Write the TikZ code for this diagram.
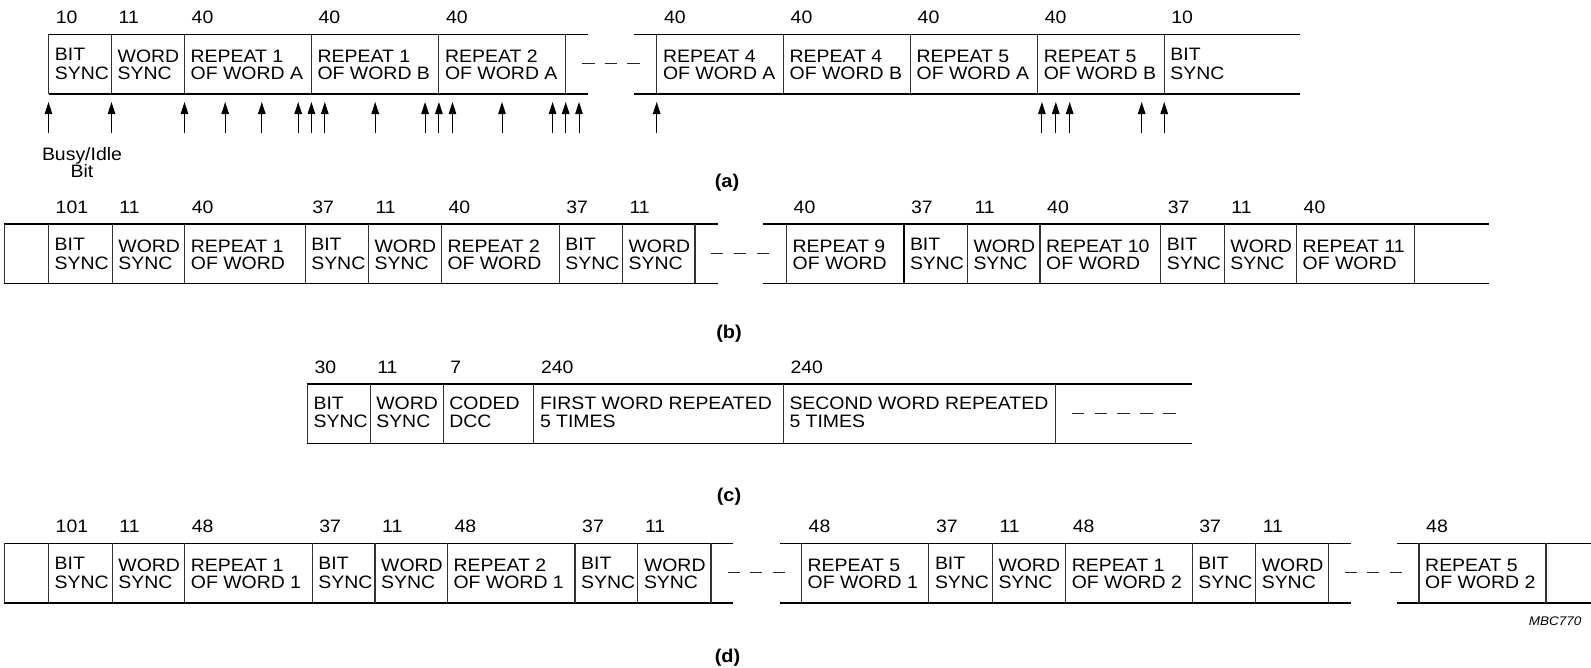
\documentclass[tikz,border=0pt]{standalone}
\usepackage{fontspec}
\setmainfont{Liberation Sans}[FakeStretch=1.08]
\usetikzlibrary{arrows.meta}
\begin{document}
\begin{tikzpicture}[x=1pt,y=-1pt,
  hline/.style={line width=1.1pt, black},
  vline/.style={line width=1.1pt, black!80},
  dashmark/.style={line width=1.1pt, black!85},
  txt/.style={anchor=base west, inner sep=0pt, font=\fontsize{18}{20}\selectfont},
  num/.style={txt},
  arr/.style={line width=1pt, black, -{Triangle[length=12pt,width=7.5pt]}},
  capt/.style={inner sep=0pt, font=\fontsize{18.5}{20}\selectfont\bfseries},
  note/.style={inner sep=0pt, font=\fontsize{12.5}{14}\selectfont\itshape},
  lbl/.style={anchor=base, inner sep=0pt, font=\fontsize{18}{20}\selectfont},
]
\useasboundingbox (0,0) rectangle (1591,667);

% ================= row (a) =================
\draw[hline] (48.7,34.3) -- (588.3,34.3) (48.7,94) -- (588.3,94);
\draw[hline] (634,34.3) -- (1300,34.3) (634,94) -- (1300,94);
\foreach \x in {48.7,111.5,184.5,311.4,438.9,565.7,656.9,783.5,910.5,1037.6,1164.2}
  \draw[vline] (\x,34.3) -- (\x,94);
\foreach \x/\n/\p/\q/\d/\e [count=\i] in {
  48.7/10/BIT/SYNC/26.5/45, 111.5/11/WORD/SYNC/28.5/45.5,
  184.5/40/REPEAT 1/OF WORD A/28.5/45.5, 311.4/40/REPEAT 1/OF WORD B/28.5/45.5,
  438.9/40/REPEAT 2/OF WORD A/28.5/45.5, 656.9/40/REPEAT 4/OF WORD A/28.5/45.5,
  783.5/40/REPEAT 4/OF WORD B/28.5/45.5, 910.5/40/REPEAT 5/OF WORD A/28.5/45.5,
  1037.6/40/REPEAT 5/OF WORD B/28.5/45.5, 1164.2/10/BIT/SYNC/26.5/45}{
  \node[num] (na\i) at (\x+7,34.3-11) {\n};
  \node[txt] (ca\i-1) at (\x+6,34.3+\d) {\p};
  \node[txt] (ca\i-2) at (\x+6,34.3+\e) {\q};
}
\foreach \a [count=\i] in {582,604.5,627}
  \draw[dashmark] (\a,63.7) -- ++(12.5,0);
\foreach \x [count=\i] in {48.5,111.5,184.5,225.2,261.8,298.2,311.4,324.8,375.2,425.1,438.9,452.5,502,552.6,565.7,579,656.7,1041.9,1055.8,1069.7,1141.7,1164.2}{
  \coordinate (as\i) at (\x,133);
  \coordinate (ae\i) at (\x,102);
  \draw[arr] (as\i) -- (ae\i);
}
\node[lbl] (busy) at (82,160) {Busy/Idle};
\node[lbl] (bit) at (82,177) {Bit};
\node[capt] (capa) at (727,183) {(a)};

% ================= row (b) =================
\draw[hline] (4.1,224) -- (717.7,224) (4.1,283.3) -- (717.7,283.3);
\draw[hline] (763.3,224) -- (1489,224) (763.3,283.3) -- (1489,283.3);
\foreach \x in {4.1,48.5,112.2,184.7,305.1,368.4,441.3,559.2,622.4,695,786.5,967.3,1040,1160.7,1224.2,1296.5,1414.7}
  \draw[vline] (\x,224) -- (\x,283.3);
\draw[vline, line width=1.7pt, black] (903.8,224) -- (903.8,283.3);
\foreach \x/\n/\p/\q/\d/\e [count=\i] in {
  48.5/101/BIT/SYNC/26.5/45, 112.2/11/WORD/SYNC/28.5/45.5,
  184.7/40/REPEAT 1/OF WORD/28.5/45.5, 305.1/37/BIT/SYNC/26.5/45,
  368.4/11/WORD/SYNC/28.5/45.5, 441.3/40/REPEAT 2/OF WORD/28.5/45.5,
  559.2/37/BIT/SYNC/26.5/45, 622.4/11/WORD/SYNC/28.5/45.5,
  786.5/40/REPEAT 9/OF WORD/28.5/45.5, 903.8/37/BIT/SYNC/26.5/45,
  967.3/11/WORD/SYNC/28.5/45.5, 1040/40/REPEAT 10/OF WORD/28.5/45.5,
  1160.7/37/BIT/SYNC/26.5/45, 1224.2/11/WORD/SYNC/28.5/45.5,
  1296.5/40/REPEAT 11/OF WORD/28.5/45.5}{
  \node[num] (nb\i) at (\x+7,224-11) {\n};
  \node[txt] (cb\i-1) at (\x+6,224+\d) {\p};
  \node[txt] (cb\i-2) at (\x+6,224+\e) {\q};
}
\foreach \a in {711,733.5,757}
  \draw[dashmark] (\a,253.3) -- ++(12,0);
\node[capt] (capb) at (729,334) {(b)};

% ================= row (c) =================
\draw[hline] (307.4,384) -- (1191.7,384) (307.4,443.3) -- (1191.7,443.3);
\foreach \x in {307.4,370.1,443.2,533.8,783.3,1055.7}
  \draw[vline] (\x,384) -- (\x,443.3);
\foreach \x/\n/\p/\q [count=\i] in {
  307.4/30/BIT/SYNC, 370.1/11/WORD/SYNC, 443.2/7/CODED/DCC,
  533.8/240/FIRST WORD REPEATED/5 TIMES, 783.3/240/SECOND WORD REPEATED/5 TIMES}{
  \node[num] (nc\i) at (\x+7,384-11) {\n};
  \node[txt] (cc\i-1) at (\x+6,384+25.5) {\p};
  \node[txt] (cc\i-2) at (\x+6,384+43) {\q};
}
\foreach \a in {1071.7,1094.5,1117,1140,1163.3}
  \draw[dashmark] (\a,413.3) -- ++(12.5,0);
\node[capt] (capc) at (729,497) {(c)};

% ================= row (d) =================
\draw[hline] (4.1,543.3) -- (733,543.3) (4.1,603) -- (733,603);
\draw[hline] (780,543.3) -- (1350.7,543.3) (780,603) -- (1350.7,603);
\draw[hline] (1396.7,543.3) -- (1591,543.3) (1396.7,603) -- (1591,603);
\foreach \x in {4.1,48.5,112.2,184.7,312.2,375,447.4,575,637.8,711,801.5,928.8,992.3,1065.6,1192.2,1255.6,1328.5,1419,1546}
  \draw[vline] (\x,543.3) -- (\x,603);
\foreach \x/\n/\p/\q/\d/\e [count=\i] in {
  48.5/101/BIT/SYNC/26.5/45, 112.2/11/WORD/SYNC/28.5/45.5,
  184.7/48/REPEAT 1/OF WORD 1/28.5/45.5, 312.2/37/BIT/SYNC/26.5/45,
  375/11/WORD/SYNC/28.5/45.5, 447.4/48/REPEAT 2/OF WORD 1/28.5/45.5,
  575/37/BIT/SYNC/26.5/45, 637.8/11/WORD/SYNC/28.5/45.5,
  801.5/48/REPEAT 5/OF WORD 1/28.5/45.5, 928.8/37/BIT/SYNC/26.5/45,
  992.3/11/WORD/SYNC/28.5/45.5, 1065.6/48/REPEAT 1/OF WORD 2/28.5/45.5,
  1192.2/37/BIT/SYNC/26.5/45, 1255.6/11/WORD/SYNC/28.5/45.5,
  1419/48/REPEAT 5/OF WORD 2/28.5/45.5}{
  \node[num] (nd\i) at (\x+7,543.3-11) {\n};
  \node[txt] (cd\i-1) at (\x+6,543.3+\d) {\p};
  \node[txt] (cd\i-2) at (\x+6,543.3+\e) {\q};
}
\foreach \a in {727.7,750,773,1345,1367,1390}
  \draw[dashmark] (\a,572.7) -- ++(12,0);
\node[note] (mbc) at (1555,621) {MBC770};
\node[capt] (capd) at (727.5,658) {(d)};
\end{tikzpicture}
\end{document}
